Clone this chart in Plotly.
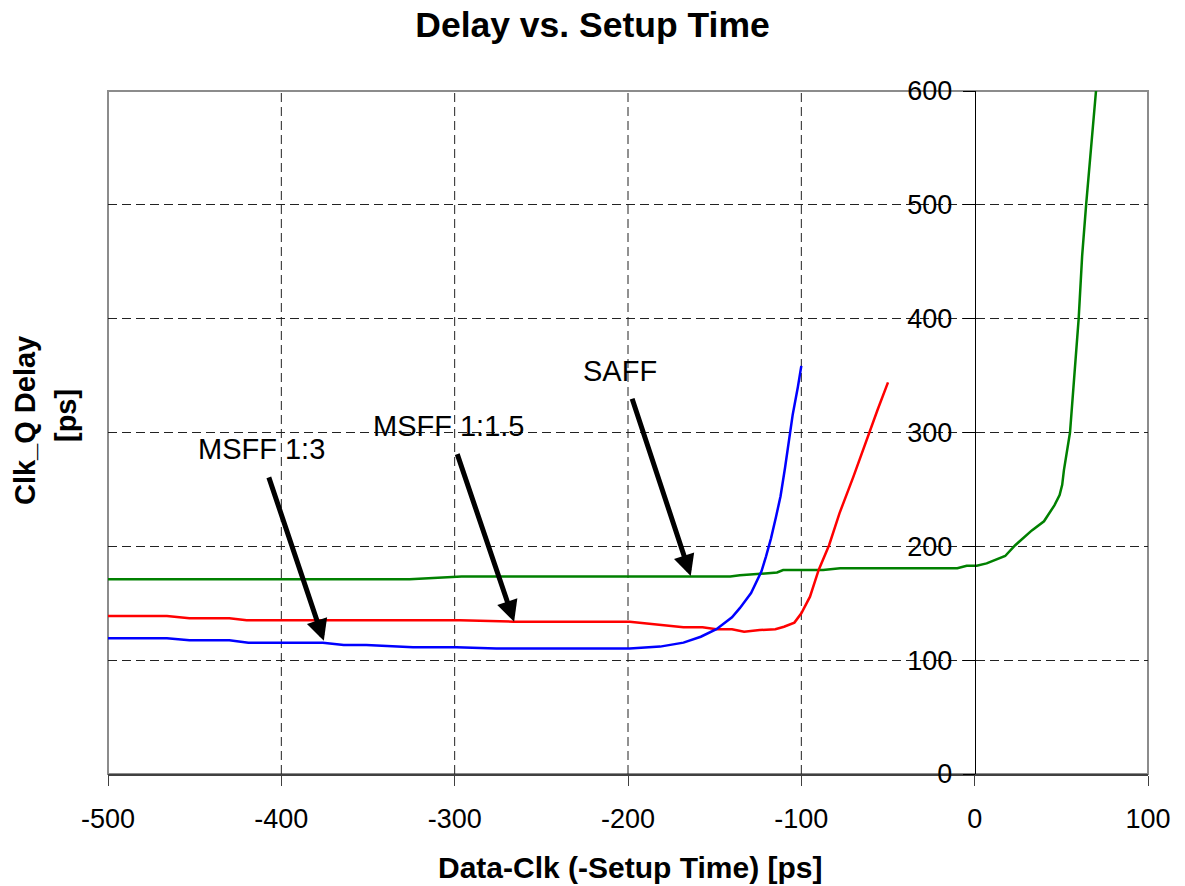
import plotly.graph_objects as go

# Clk-to-Q delay [ps] versus Data-Clk offset [ps] for three flip-flop designs
saff_x = [-500, -326, -296, -141, -135.5, -123, -114, -110.5, -87.4, -77.6, -10, -4.6, 1.2, 6.9,
          17.6, 23.4, 33, 40, 46, 49, 50.5, 51.5, 55, 60, 62, 64.3, 67, 70]
saff_y = [171, 171, 173.4, 173.4, 174.5, 176.2, 177, 179.2, 179.2, 180.7, 180.7, 183, 183, 185,
          191.5, 201, 214, 222, 236, 245, 254, 267, 300, 400, 455, 500, 550, 600]

msff15_x = [-500, -466, -453, -430, -420, -297, -266, -199, -168, -157, -149, -140, -133, -124,
            -115, -110, -104, -100, -95, -90, -84, -78, -70, -61, -56, -50]
msff15_y = [138.8, 138.8, 136.8, 136.8, 135, 135, 133.8, 133.8, 128.9, 128.9, 127.2, 127.2, 125,
            126.5, 127.2, 129.4, 133, 141.2, 155.8, 179.3, 201, 229, 261, 300, 320, 344]

msff3_x = [-500, -466, -453, -430, -419, -376, -364, -351, -324, -299, -276, -199, -181.5, -168,
           -158, -149, -140, -135.5, -129, -126, -123, -120.4, -117.5, -114.6, -112, -109.4,
           -106.5, -105, -102, -100]
msff3_y = [119.2, 119.2, 117.4, 117.4, 115.4, 115.4, 113.4, 113.4, 111.3, 111.3, 110.2, 110.2,
           111.9, 115.4, 120.6, 127.2, 137.7, 145.7, 159, 169, 178, 191, 207, 226, 244, 269,
           299.5, 315.5, 340, 358.5]

x_ticks = [-500, -400, -300, -200, -100, 0, 100]
y_ticks = [0, 100, 200, 300, 400, 500, 600]

# Callout labels: (text, text x, text y, arrow tail x, tail y, arrow tip x, tip y)
callouts = [
    ("MSFF 1:3", -411.3, 285.8, -407.5, 261.9, -375.5, 117.0),
    ("MSFF 1:1.5", -303.1, 305.5, -298.8, 282.3, -265.7, 133.7),
    ("SAFF", -204.9, 353.7, -197.9, 331.0, -163.8, 174.0),
]

FONT = "Arial, Liberation Sans, sans-serif"
GRID_DASH = "9px,5px"

fig = go.Figure()
fig.add_trace(go.Scatter(x=saff_x, y=saff_y, mode="lines", name="SAFF",
                         line=dict(color="#008000", width=2.5)))
fig.add_trace(go.Scatter(x=msff15_x, y=msff15_y, mode="lines", name="MSFF 1:1.5",
                         line=dict(color="#ff0000", width=2.5)))
fig.add_trace(go.Scatter(x=msff3_x, y=msff3_y, mode="lines", name="MSFF 1:3",
                         line=dict(color="#0000ff", width=2.5)))

annotations = []
for text, tx, ty, ax, ay, hx, hy in callouts:
    annotations.append(dict(x=tx, y=ty, xref="x", yref="y", text=text, showarrow=False,
                            font=dict(family=FONT, size=29, color="black"),
                            xanchor="center", yanchor="middle"))
    annotations.append(dict(x=hx, y=hy, xref="x", yref="y", ax=ax, ay=ay,
                            axref="x", ayref="y", text="", showarrow=True,
                            arrowhead=2, arrowsize=0.85, arrowwidth=5,
                            arrowcolor="black", standoff=0, startstandoff=0))

# Axis titles
annotations.append(dict(x=0.502, y=-0.1376, xref="paper", yref="paper",
                        text="<b>Data-Clk (-Setup Time) [ps]</b>", showarrow=False,
                        font=dict(family=FONT, size=30, color="black"),
                        xanchor="center", yanchor="middle"))
annotations.append(dict(x=-0.0798, y=0.5168, xref="paper", yref="paper",
                        text="<b>Clk_Q Delay</b>", showarrow=False, textangle=-90,
                        font=dict(family=FONT, size=29, color="black"),
                        xanchor="center", yanchor="middle"))
annotations.append(dict(x=-0.0404, y=0.5256, xref="paper", yref="paper",
                        text="<b>[ps]</b>", showarrow=False, textangle=-90,
                        font=dict(family=FONT, size=29, color="black"),
                        xanchor="center", yanchor="middle"))

# Plot frame plus vertical dashed gridlines (the one at 0 is covered by the y axis line)
shapes = [dict(type="rect", xref="paper", yref="paper", x0=0, x1=1, y0=0, y1=1,
               line=dict(color="#8c8c8c", width=2), layer="below")]
for v in x_ticks:
    if v in (x_ticks[0], 0, x_ticks[-1]):
        continue
    shapes.append(dict(type="line", xref="x", yref="paper", x0=v, x1=v, y0=0, y1=1,
                       line=dict(color="#222222", width=1, dash=GRID_DASH), layer="below"))

fig.update_layout(
    width=1185, height=886,
    margin=dict(l=108, r=37, t=91, b=112),
    paper_bgcolor="white", plot_bgcolor="white",
    showlegend=False,
    title=dict(text="<b>Delay vs. Setup Time</b>", x=0.5, xanchor="center",
               y=1 - 25 / 886, yanchor="middle",
               font=dict(family=FONT, size=35.5, color="black")),
    annotations=annotations,
    shapes=shapes,
    xaxis=dict(range=[-500, 100], tickvals=x_ticks, ticktext=[str(v) for v in x_ticks],
               showgrid=False,
               zeroline=False, showline=True, linecolor="#404040", linewidth=2,
               ticks="outside", ticklen=10, tickcolor="#404040", tickwidth=1,
               ticklabelstandoff=10,
               tickfont=dict(family=FONT, size=27, color="black")),
    yaxis=dict(range=[0, 600], tickvals=y_ticks, ticktext=[str(v) for v in y_ticks],
               anchor="free", position=500 / 600,
               showgrid=True, gridcolor="#222222", gridwidth=1, griddash=GRID_DASH,
               zeroline=False, showline=True, linecolor="black", linewidth=1,
               ticks="outside", ticklen=12, tickcolor="black", tickwidth=1,
               ticklabelstandoff=5,
               tickfont=dict(family=FONT, size=27, color="black")),
)

fig.write_html("out.html")
